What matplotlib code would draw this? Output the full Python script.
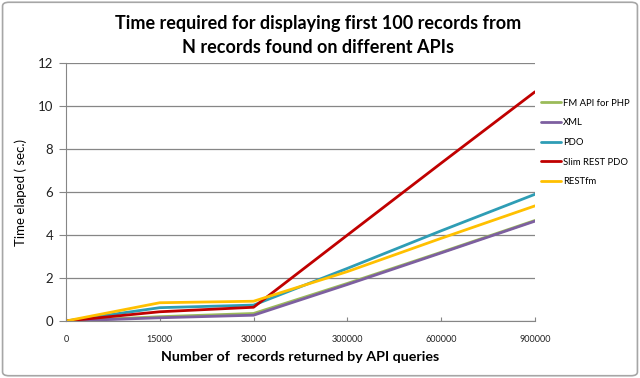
import matplotlib

matplotlib.use("Agg")
import matplotlib.pyplot as plt
from matplotlib.patches import FancyBboxPatch

categories = ["0", "15000", "30000", "300000", "600000", "900000"]

fm_api = [0, 0.2, 0.35, 1.75, 3.2, 4.68]
xml = [0, 0.15, 0.27, 1.7, 3.17, 4.65]
pdo = [0, 0.62, 0.74, 2.45, 4.2, 5.9]
slim = [0, 0.43, 0.64, 4.0, 7.35, 10.67]
restfm = [0, 0.85, 0.92, 2.3, 3.85, 5.36]

series = [
    ("FM API for PHP", fm_api, "#9BBB59"),
    ("XML", xml, "#7D5FA0"),
    ("PDO", pdo, "#2E9DB5"),
    ("Slim REST PDO", slim, "#C00000"),
    ("RESTfm", restfm, "#FFC000"),
]

plt.rcParams["font.family"] = ["Lato", "DejaVu Sans"]

fig = plt.figure(figsize=(6.4, 3.78), dpi=100)
ax = fig.add_axes([0.103, 0.1508, 0.733, 0.682])

x = list(range(len(categories)))
for name, vals, color in series:
    ax.plot(x, vals, color=color, lw=2.0, label=name, solid_capstyle="round")

ax.set_xlim(0, len(categories) - 1)
ax.set_ylim(0, 12)
ax.set_yticks(range(0, 13, 2))
ax.set_xticks(x)
ax.set_xticklabels(categories, fontsize=6.5, color="#222222")
ax.tick_params(axis="x", direction="in", length=3, color="#868686", pad=10)
ax.tick_params(axis="y", direction="out", length=5, color="#868686",
               labelsize=9.5, labelcolor="#222222", pad=4)
ax.grid(axis="y", color="#868686", lw=0.9)
ax.set_axisbelow(True)
for side in ["top", "right"]:
    ax.spines[side].set_visible(False)
for side in ["left", "bottom"]:
    ax.spines[side].set_color("#868686")

ax.set_xlabel("Number of  records returned by API queries", fontsize=10.3,
              fontweight="bold", labelpad=5)
ax.set_ylabel("Time elaped ( sec.)", fontsize=9.5, labelpad=8)

fig.text(0.497, 0.937, "Time required for displaying first 100 records from",
         ha="center", va="center", fontsize=13, fontweight="bold")
fig.text(0.497, 0.874, "N records found on different APIs",
         ha="center", va="center", fontsize=13, fontweight="bold")

ax.legend(loc="upper left", bbox_to_anchor=(1.012, 0.862), frameon=False,
          fontsize=6.8, handlelength=2.2, handletextpad=0.15, labelspacing=1.12,
          borderaxespad=0, borderpad=0)

border = FancyBboxPatch((0.004, 0.006), 0.992, 0.988, boxstyle="round,pad=0,rounding_size=0.01",
                        transform=fig.transFigure, fill=False, edgecolor="#A6A6A6", lw=1.2)
fig.patches.append(border)

fig.savefig("out.png", dpi=100)
